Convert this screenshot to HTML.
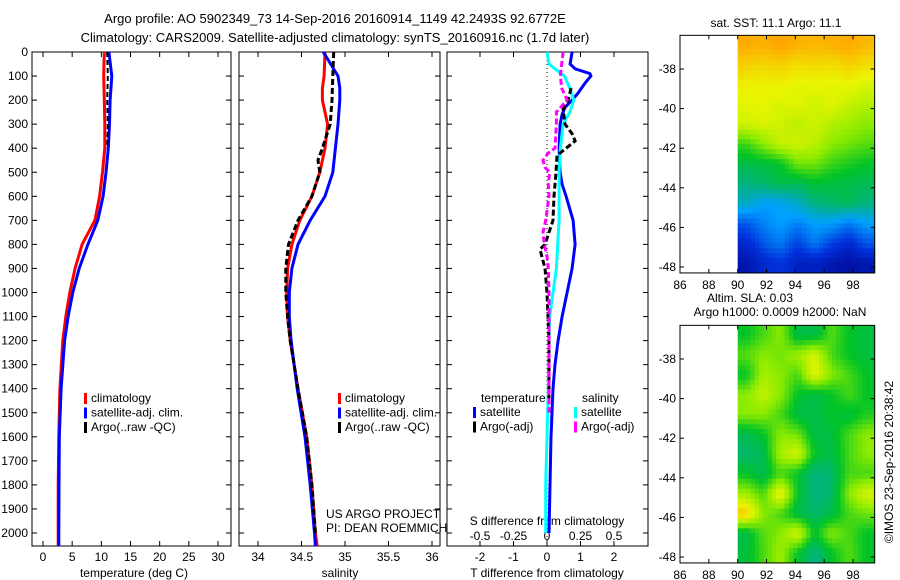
<!DOCTYPE html>
<html><head><meta charset="utf-8"><style>
html,body{margin:0;padding:0;background:#fff;}
svg{display:block;font-family:"Liberation Sans",sans-serif;}
text{font-size:12px;fill:#000;}
</style></head><body>
<svg id="fig" width="900" height="580" xmlns="http://www.w3.org/2000/svg">
<rect width="900" height="580" fill="#fff"/>
<g>
<text x="335" y="23" text-anchor="middle" style="font-size:13px">Argo profile: AO 5902349_73 14-Sep-2016 20160914_1149 42.2493S 92.6772E</text>
<text x="335" y="42" text-anchor="middle" style="font-size:13px">Climatology: CARS2009. Satellite-adjusted climatology: synTS_20160916.nc (1.7d later)</text>
</g>
<g id="layer"></g>
</svg>
<script>
// ---------- data ----------
const depthTicks=[0,100,200,300,400,500,600,700,800,900,1000,1100,1200,1300,1400,1500,1600,1700,1800,1900,2000];
const tempTicks=[0,5,10,15,20,25,30];
const salTicks=[34,34.5,35,35.5,36];
const salTickLabels=["34","34.5","35","35.5","36"];
const tdiffTicks=[-2,-1,0,1,2];
const sdiffTicks=[-0.5,-0.25,0,0.25,0.5];
const sdiffTickLabels=["-0.5","-0.25","0","0.25","0.5"];

const tDepth=[0,100,200,300,400,500,600,700,800,900,1000,1100,1200,1400,1600,1800,2000,2054];
const tClim=[10.5,10.4,10.5,10.6,10.6,10.2,9.7,8.9,6.7,5.5,4.6,3.9,3.4,2.9,2.7,2.6,2.6,2.6];
const tSat=[11.3,11.8,11.5,11.4,11.2,10.8,10.3,9.4,7.7,6.2,5.1,4.3,3.7,3.1,2.8,2.75,2.7,2.7];
const argoTDepth=[0,100,200,300,400];
const argoT=[11.0,11.1,11.0,11.1,11.0];

const sDepth=[0,100,150,200,300,400,500,600,700,800,900,1000,1100,1200,1400,1600,1800,2000,2054];
const sClim=[34.77,34.76,34.74,34.74,34.8,34.77,34.71,34.62,34.48,34.39,34.34,34.33,34.34,34.37,34.46,34.56,34.62,34.66,34.68];
const sSat=[34.75,34.92,34.94,34.94,34.92,34.89,34.86,34.77,34.6,34.46,34.39,34.36,34.36,34.38,34.45,34.54,34.6,34.65,34.66];
const argoSDepth=[0,100,200,300,400,450,500,600,700,800,900,1000,1100,1200,1400,1600,1800,2000];
const argoS=[34.87,34.86,34.85,34.83,34.74,34.69,34.71,34.62,34.46,34.35,34.32,34.32,34.34,34.37,34.46,34.56,34.62,34.66];

const dDepth=[0,50,70,90,100,130,170,200,230,260,300,400,500,550,600,700,800,900,1000,1100,1200,1300,1400,1600,1800,2000];
const dTSat=[0.75,0.69,0.84,1.28,1.31,1.13,0.93,0.75,0.54,0.45,0.39,0.36,0.39,0.45,0.57,0.78,0.84,0.75,0.6,0.45,0.33,0.24,0.18,0.12,0.09,0.06];
const dSDepth=[0,50,70,100,150,200,250,300,400,500,600,700,800,900,1000,1100,1200,1400,1600,1800,2000];
const dSSat=[0,0.015,0.06,0.13,0.17,0.2,0.17,0.12,0.1,0.09,0.09,0.09,0.08,0.07,0.045,0.02,0.015,0.01,0,-0.01,-0.01];
const dArgoTDepth=[150,200,240,300,340,370,400,430,500,600,700,800,820,900,1000,1200,1450];
const dArgoT=[0.72,0.63,0.48,0.54,0.75,0.84,0.57,0.3,0.27,0.21,0.18,-0.06,-0.21,-0.06,0,0.06,0.06];
const dArgoSDepth=[0,50,100,150,200,250,300,400,420,450,480,500,550,600,700,750,800,850,900,1000,1500];
const dArgoS=[0.12,0.11,0.1,0.11,0.15,0.07,0.07,0.06,0.01,-0.03,-0.015,0.02,0.01,0.015,-0.01,-0.03,-0.02,0,0.01,0.015,0.015];

const lonTicks=[86,88,90,92,94,96,98];
const latTicks=[-38,-40,-42,-44,-46,-48];
// SST map: rows lat -36.3 -> -48.3 (1 deg each), cols lon 90 -> 99.5 (8 cols), values on 0..1 colour scale
const sstGrid=[
[0.8,0.79,0.81,0.79,0.78,0.79,0.8,0.78],
[0.75,0.74,0.75,0.73,0.74,0.73,0.75,0.73],
[0.71,0.7,0.71,0.69,0.7,0.69,0.7,0.68],
[0.69,0.7,0.68,0.69,0.67,0.69,0.66,0.64],
[0.67,0.68,0.67,0.65,0.67,0.64,0.62,0.6],
[0.54,0.6,0.66,0.67,0.65,0.6,0.58,0.56],
[0.47,0.48,0.5,0.58,0.58,0.54,0.52,0.5],
[0.42,0.44,0.47,0.46,0.49,0.48,0.47,0.46],
[0.36,0.3,0.31,0.35,0.42,0.44,0.46,0.42],
[0.2,0.26,0.3,0.26,0.3,0.3,0.25,0.3],
[0.12,0.2,0.25,0.17,0.25,0.17,0.12,0.2],
[0.06,0.12,0.15,0.1,0.1,0.07,0.05,0.07]];
const slaGrid=[
[0.5,0.55,0.6,0.47,0.47,0.56,0.5,0.48],
[0.56,0.6,0.58,0.62,0.68,0.55,0.5,0.48],
[0.5,0.63,0.6,0.55,0.7,0.6,0.55,0.5],
[0.6,0.66,0.6,0.5,0.47,0.5,0.55,0.5],
[0.6,0.6,0.55,0.47,0.47,0.5,0.48,0.52],
[0.46,0.5,0.6,0.58,0.47,0.48,0.55,0.6],
[0.44,0.46,0.63,0.68,0.5,0.47,0.55,0.6],
[0.5,0.46,0.55,0.5,0.42,0.44,0.55,0.55],
[0.62,0.55,0.72,0.5,0.42,0.44,0.6,0.68],
[0.76,0.6,0.55,0.47,0.44,0.47,0.55,0.58],
[0.47,0.56,0.6,0.68,0.5,0.6,0.55,0.5],
[0.48,0.55,0.62,0.5,0.42,0.5,0.56,0.5]];

// ---------- helpers ----------
const NS="http://www.w3.org/2000/svg";
const L=document.getElementById('layer');
function mk(tag,attrs,parent){const e=document.createElementNS(NS,tag);for(const k in attrs)e.setAttribute(k,attrs[k]);(parent||L).appendChild(e);return e;}
function txt(x,y,s,anchor,parent,size){const t=mk('text',{x:x,y:y,'text-anchor':anchor||'start'},parent);if(size)t.style.fontSize=size+'px';t.textContent=s;return t;}
const yTop=52,yBot=546;
const yD=d=>yTop+d*(533-52)/2000;
const xT=v=>43+v*(218-43)/30;
const xS=v=>258+(v-34)*87;
const xTd=v=>547+v*33.5;
const xSd=v=>547+v*134;

function frame(x0,x1,name){
  const g=mk('g',{});
  
  
  mk('rect',{x:x0,y:yTop,width:x1-x0,height:yBot-yTop,fill:'none',stroke:'#000','stroke-width':1},g);
  depthTicks.forEach(d=>{mk('line',{x1:x0,x2:x0+5,y1:yD(d),y2:yD(d),stroke:'#000'},g);mk('line',{x1:x1,x2:x1-5,y1:yD(d),y2:yD(d),stroke:'#000'},g);});
  return g;
}
function xticks(g,vals,fx,labels,ly){
  vals.forEach((v,i)=>{const x=fx(v);mk('line',{x1:x,x2:x,y1:yBot,y2:yBot-5,stroke:'#000'},g);mk('line',{x1:x,x2:x,y1:yTop,y2:yTop+5,stroke:'#000'},g);
    const t=txt(x,ly,labels?labels[i]:String(v),'middle',g);});
}
function line(xs,ds,fx,color,dash,name,w){
  const p=xs.map((v,i)=>fx(v).toFixed(1)+','+yD(ds[i]).toFixed(1)).join(' ');
  const e=mk('polyline',{points:p,fill:'none',stroke:color,'stroke-width':w||3});
  if(dash)e.setAttribute('stroke-dasharray',dash);
  
  
}
function legend(g,x,y,items){
  items.forEach((it,i)=>{mk('rect',{x:x,y:y+i*14.5-9,width:3,height:11,fill:it[0]},g);const t=txt(x+7,y+i*14.5,it[1],'start',g);});
}

// depth axis labels
const yl=mk('g',{});


depthTicks.forEach(d=>txt(28,yD(d)+4,String(d),'end',yl));

// panel 1
const p1=frame(32,231,'temperature-panel');
xticks(p1,tempTicks,xT,null,561);
txt(134,577,'temperature (deg C)','middle',p1);
line(tClim,tDepth,xT,'#f00',null,'temp-climatology-line');
line(tSat,tDepth,xT,'#00f',null,'temp-satellite-line');
line(argoT,argoTDepth,xT,'#000','5,3','temp-argo-line',2);
legend(p1,84,402,[['#f00','climatology'],['#00f','satellite-adj. clim.'],['#000','Argo(..raw -QC)']]);

// panel 2
const p2=frame(239,440,'salinity-panel');
xticks(p2,salTicks,xS,salTickLabels,561);
txt(340,577,'salinity','middle',p2);
line(sClim,sDepth,xS,'#f00',null,'sal-climatology-line');
line(sSat,sDepth,xS,'#00f',null,'sal-satellite-line');
line(argoS,argoSDepth,xS,'#000','6,3','sal-argo-line');
legend(p2,338,402,[['#f00','climatology'],['#00f','satellite-adj. clim.'],['#000','Argo(..raw -QC)']]);
txt(326,518,'US ARGO PROJECT','start',p2);
txt(326,532,'PI: DEAN ROEMMICH','start',p2);

// panel 3
const p3=frame(447,648,'difference-panel');
xticks(p3,tdiffTicks,xTd,null,561);
sdiffTicks.forEach((v,i)=>{const t=txt(xSd(v),540,sdiffTickLabels[i],'middle',p3);});
txt(547,525,'S difference from climatology','middle',p3);
txt(547,577,'T difference from climatology','middle',p3);
mk('line',{x1:547,x2:547,y1:yTop,y2:yBot,stroke:'#000','stroke-dasharray':'1,3'},p3);
line(dTSat,dDepth,xTd,'#00f',null,'tdiff-satellite-line');
line(dSSat,dSDepth,xSd,'#0ff',null,'sdiff-satellite-line');
line(dArgoT,dArgoTDepth,xTd,'#000','6,3','tdiff-argo-line');
line(dArgoS,dArgoSDepth,xSd,'#f0f','6,3','sdiff-argo-line');
txt(481,402,'temperature','start',p3);
legend(p3,473,416,[['#00f','satellite'],['#000','Argo(-adj)']]);
txt(582,402,'salinity','start',p3);
legend(p3,574,416,[['#0ff','satellite'],['#f0f','Argo(-adj)']]);

// colour map
const cmapStops=[0,0.15,0.3,0.4,0.5,0.6,0.7,0.8,1];
const cmapCols=[[0,0,140],[0,50,220],[0,160,255],[0,175,150],[0,195,40],[140,235,0],[235,245,0],[255,170,0],[230,30,0]];
function cmap(v){v=Math.max(0,Math.min(1,v));
  let i=0;while(i<cmapStops.length-2&&v>cmapStops[i+1])i++;
  const t=(v-cmapStops[i])/(cmapStops[i+1]-cmapStops[i]);
  const c=cmapCols[i].map((a,k)=>Math.round(a+(cmapCols[i+1][k]-a)*t));
  return 'rgb('+c.join(',')+')';}
function sample(grid,r,c){ // bilinear on cell centres
  const R=grid.length,C=grid[0].length;
  r=Math.max(0,Math.min(R-1,r));c=Math.max(0,Math.min(C-1,c));
  const r0=Math.floor(r),c0=Math.floor(c),r1=Math.min(R-1,r0+1),c1=Math.min(C-1,c0+1),fr=r-r0,fc=c-c0;
  return grid[r0][c0]*(1-fr)*(1-fc)+grid[r0][c1]*(1-fr)*fc+grid[r1][c0]*fr*(1-fc)+grid[r1][c1]*fr*fc;
}
function map(top,grid,name,cellName){
  const g=mk('g',{});
  
  
  const xL=lon=>680+(lon-86)*(853-680)/12;
  const yL=lat=>top+34+(-38-lat)*(198/10);
  const lat0=-36.3,lon0=90,lon1=99.5;
  const rows=grid.length,cols=grid[0].length,S=4,dl=(lon1-lon0)/cols;
  for(let r=0;r<rows*S;r++)for(let c=0;c<cols*S;c++){
    const v=sample(grid,(r+0.5)/S-0.5,(c+0.5)/S-0.5);
    const x=xL(lon0+c*dl/S),y=yL(lat0-r/S),w=xL(lon0+(c+1)*dl/S)-x,h=yL(lat0-(r+1)/S)-y;
    const e=mk('rect',{x:x.toFixed(1),y:y.toFixed(1),width:(w+0.6).toFixed(1),height:(h+0.6).toFixed(1),fill:cmap(v)},g);
    
    
  }
  const bTop=yL(lat0),bBot=yL(-48.3);
  mk('rect',{x:680,y:bTop,width:xL(99.5)-680,height:bBot-bTop,fill:'none',stroke:'#000'},g);
  lonTicks.forEach(l=>{const x=xL(l);mk('line',{x1:x,x2:x,y1:bBot,y2:bBot-4,stroke:'#000'},g);mk('line',{x1:x,x2:x,y1:bTop,y2:bTop+4,stroke:'#000'},g);txt(x,bBot+16,String(l),'middle',g);});
  latTicks.forEach(l=>{const y=yL(l);mk('line',{x1:680,x2:684,y1:y,y2:y,stroke:'#000'},g);mk('line',{x1:xL(99.5),x2:xL(99.5)-4,y1:y,y2:y,stroke:'#000'},g);txt(676,y+4,String(l),'end',g);});
}
map(35,sstGrid,'sst-map','sst-cell');
map(325,slaGrid,'sla-map','sla-cell');
txt(776,27,'sat. SST: 11.1 Argo: 11.1','middle');
txt(750,302,'Altim. SLA: 0.03','middle');
txt(780,316,'Argo h1000: 0.0009 h2000: NaN','middle');
const imos=txt(0,0,'\u00A9IMOS 23-Sep-2016 20:38:42','middle');
imos.setAttribute('transform','translate(893,462) rotate(-90)');


</script>
</body></html>
